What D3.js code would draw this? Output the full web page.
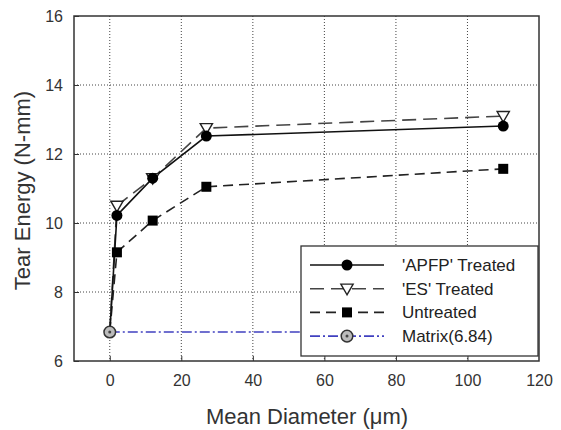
<!DOCTYPE html>
<html>
<head>
<meta charset="utf-8">
<script src="https://cdn.jsdelivr.net/npm/d3@7"></script>
<style>
  body { margin: 0; background: #fff; }
  text { font-family: "Liberation Sans", Arial, sans-serif; fill: #222; }
</style>
</head>
<body>
<svg id="chart" width="561" height="430"></svg>
<script>
// data
var diameters = [0, 2, 12, 27, 110];
var apfpTreated = [6.84, 10.22, 11.3, 12.52, 12.81];
var esTreated = [6.84, 10.5, 11.3, 12.75, 13.1];
var untreated = [6.84, 9.15, 10.07, 11.05, 11.57];
var matrixValue = 6.84;
var xTicks = [0, 20, 40, 60, 80, 100, 120];
var yTicks = [6, 8, 10, 12, 14, 16];
var seriesNames = ["'APFP' Treated", "'ES' Treated", "Untreated", "Matrix(6.84)"];

var svg = d3.select("#chart");
var plotL = 74, plotR = 539, plotT = 16, plotB = 361;

var x = d3.scaleLinear().domain([-10, 120]).range([plotL, plotR]);
var y = d3.scaleLinear().domain([6, 16]).range([plotB, plotT]);

// grid
var grid = svg.append("g");
grid.selectAll(".gx").data(xTicks.filter(function(d){ return d > -10 && d < 120; }))
    .enter().append("line")
    .attr("x1", function(d){ return x(d); }).attr("x2", function(d){ return x(d); })
    .attr("y1", plotT).attr("y2", plotB)
    .style("stroke", "#444").style("stroke-width", 1).style("stroke-dasharray", "1,2");
grid.selectAll(".gy").data(yTicks.filter(function(d){ return d > 6 && d < 16; }))
    .enter().append("line")
    .attr("x1", plotL).attr("x2", plotR)
    .attr("y1", function(d){ return y(d); }).attr("y2", function(d){ return y(d); })
    .style("stroke", "#444").style("stroke-width", 1).style("stroke-dasharray", "1,2");

// axes (ticks inside)
var xAxis = svg.append("g").attr("transform", "translate(0," + plotB + ")")
    .call(d3.axisBottom(x).tickValues(xTicks).tickSizeInner(-5).tickSizeOuter(0).tickPadding(14));
var yAxis = svg.append("g").attr("transform", "translate(" + plotL + ",0)")
    .call(d3.axisLeft(y).tickValues(yTicks).tickSizeInner(-5).tickSizeOuter(0).tickPadding(11));
[xAxis, yAxis].forEach(function(a){
    a.select(".domain").remove();
    a.selectAll("line").style("stroke", "#333");
    a.selectAll("text").style("font-size", "16px").style("fill", "#333")
        .style("font-family", "'Liberation Sans', Arial, sans-serif");
});
xAxis.selectAll(".tick").filter(function(d){ return d === 120; }).select("line").remove();

// frame
svg.append("rect").attr("x", plotL).attr("y", plotT)
    .attr("width", plotR - plotL).attr("height", plotB - plotT)
    .style("fill", "none").style("stroke", "#333").style("stroke-width", 1.5);

var line = d3.line()
    .x(function(d){ return x(d[0]); })
    .y(function(d){ return y(d[1]); });

function pairs(vals){ return diameters.map(function(d, i){ return [d, vals[i]]; }); }

var series = [
    {name: seriesNames[0], vals: apfpTreated, dash: null, color: "#111", marker: "circle"},
    {name: seriesNames[1], vals: esTreated, dash: "14,7", color: "#444", marker: "tri"},
    {name: seriesNames[2], vals: untreated, dash: "10,6", color: "#222", marker: "square"}
];

function drawMarker(g, type, cx, cy){
    if (type === "circle") {
        g.append("circle").attr("cx", cx).attr("cy", cy).attr("r", 5.5)
            .style("fill", "#000");
    } else if (type === "tri") {
        g.append("path").attr("d", d3.symbol().type(d3.symbolTriangle).size(65)())
            .attr("transform", "translate(" + cx + "," + (cy - 1) + ") rotate(180)")
            .style("fill", "#fff").style("stroke", "#222").style("stroke-width", 1.4);
    } else if (type === "square") {
        g.append("rect").attr("x", cx - 5).attr("y", cy - 5).attr("width", 10).attr("height", 10)
            .style("fill", "#000");
    } else if (type === "matrix") {
        g.append("circle").attr("cx", cx).attr("cy", cy).attr("r", 5.8)
            .style("fill", "#bbb").style("stroke", "#333").style("stroke-width", 1.5);
        g.append("circle").attr("cx", cx).attr("cy", cy).attr("r", 1.5).style("fill", "#444");
    }
}

// matrix line
svg.append("line")
    .attr("x1", x(0)).attr("x2", plotR)
    .attr("y1", y(matrixValue)).attr("y2", y(matrixValue))
    .style("stroke", "#4040c0").style("stroke-width", 1.5).style("stroke-dasharray", "10,3,2,3");

var lines = svg.append("g");
series.slice().reverse().forEach(function(s){
    lines.append("path").datum(pairs(s.vals)).attr("d", line)
        .style("fill", "none").style("stroke", s.color).style("stroke-width", 1.6)
        .style("stroke-dasharray", s.dash);
});
series.slice().reverse().forEach(function(s){
    pairs(s.vals).slice(1).forEach(function(p){
        drawMarker(lines, s.marker, x(p[0]), y(p[1]));
    });
});
drawMarker(lines, "matrix", x(0), y(matrixValue));

// legend
var lg = svg.append("g");
lg.append("rect").attr("x", 301).attr("y", 246).attr("width", 237).attr("height", 110)
    .style("fill", "#fff").style("stroke", "#333").style("stroke-width", 1.3);
var legendItems = [
    {name: seriesNames[0], dash: null, color: "#111", marker: "circle"},
    {name: seriesNames[1], dash: "14,7", color: "#444", marker: "tri"},
    {name: seriesNames[2], dash: "10,6", color: "#222", marker: "square"},
    {name: seriesNames[3], dash: "10,3,2,3", color: "#4040c0", marker: "matrix"}
];
legendItems.forEach(function(it, i){
    var ly = 265 + i * 23.7;
    lg.append("line").attr("x1", 310).attr("x2", 384).attr("y1", ly).attr("y2", ly)
        .style("stroke", it.color).style("stroke-width", 1.6).style("stroke-dasharray", it.dash);
    drawMarker(lg, it.marker, 347, ly);
    lg.append("text").attr("x", 402).attr("y", ly + 6).style("font-size", "17px")
        .style("fill", "#222").text(it.name);
});

// axis titles
svg.append("text").attr("x", 307).attr("y", 424).attr("text-anchor", "middle")
    .style("font-size", "22px").style("fill", "#333").text("Mean Diameter (\u03bcm)");
svg.append("text").attr("transform", "translate(30," + ((plotT + plotB) / 2 + 2) + ") rotate(-90)")
    .attr("text-anchor", "middle").style("font-size", "22px").style("fill", "#333")
    .text("Tear Energy (N-mm)");
</script>
</body>
</html>
